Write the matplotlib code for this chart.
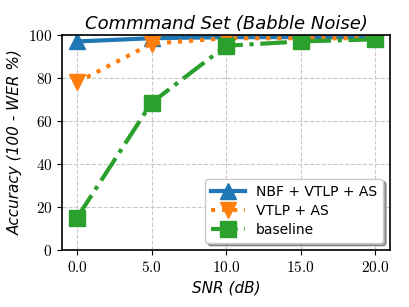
import matplotlib
matplotlib.use("Agg")
import matplotlib.pyplot as plt

plt.rcParams['mathtext.fontset'] = 'cm'

snr = [0.0, 5.0, 10.0, 15.0, 20.0]
nbf_vtlp_as = [97.0, 98.5, 99.0, 99.0, 99.0]
vtlp_as = [78.0, 96.0, 98.5, 98.5, 98.5]
baseline = [15.0, 68.5, 95.0, 97.0, 98.0]
xticks = [0.0, 5.0, 10.0, 15.0, 20.0]
yticks = [0, 20, 40, 60, 80, 100]

fig = plt.figure(figsize=(4.09, 3.07), dpi=100)
ax = fig.add_axes([0.152, 0.186, 0.802, 0.700])

ax.plot(snr, nbf_vtlp_as, color='#1f77b4', linestyle='-', linewidth=3, marker='^', markersize=11, label='NBF + VTLP + AS')
ax.plot(snr, vtlp_as, color='#ff7f0e', linestyle=':', linewidth=3, marker='v', markersize=11, label='VTLP + AS')
ax.plot(snr, baseline, color='#2ca02c', linestyle='-.', linewidth=3, marker='s', markersize=11, label='baseline')

ax.set_xlim(-1, 21)
ax.set_ylim(0, 100)
ax.set_xticks(xticks)
ax.set_xticklabels([f'${v:.1f}$' for v in xticks], fontsize=11)
ax.set_yticks(yticks)
ax.set_yticklabels([f'${v}$' for v in yticks], fontsize=11)
ax.grid(True, linestyle='--', color='#c8c8c8', linewidth=0.8)
ax.set_axisbelow(True)
for s in ax.spines.values():
    s.set_linewidth(1.2)

ax.set_xlabel('SNR (dB)', fontsize=11, style='italic')
ax.set_ylabel('Accuracy (100 - WER %)', fontsize=11, style='italic')
ax.set_title('Commmand Set (Babble Noise)', fontsize=13, style='italic', pad=4)

leg = ax.legend(loc='lower right', fontsize=10, shadow=True, framealpha=1,
                borderpad=0.45, labelspacing=0.35, handlelength=2.4)

fig.savefig('out.png', dpi=100)
